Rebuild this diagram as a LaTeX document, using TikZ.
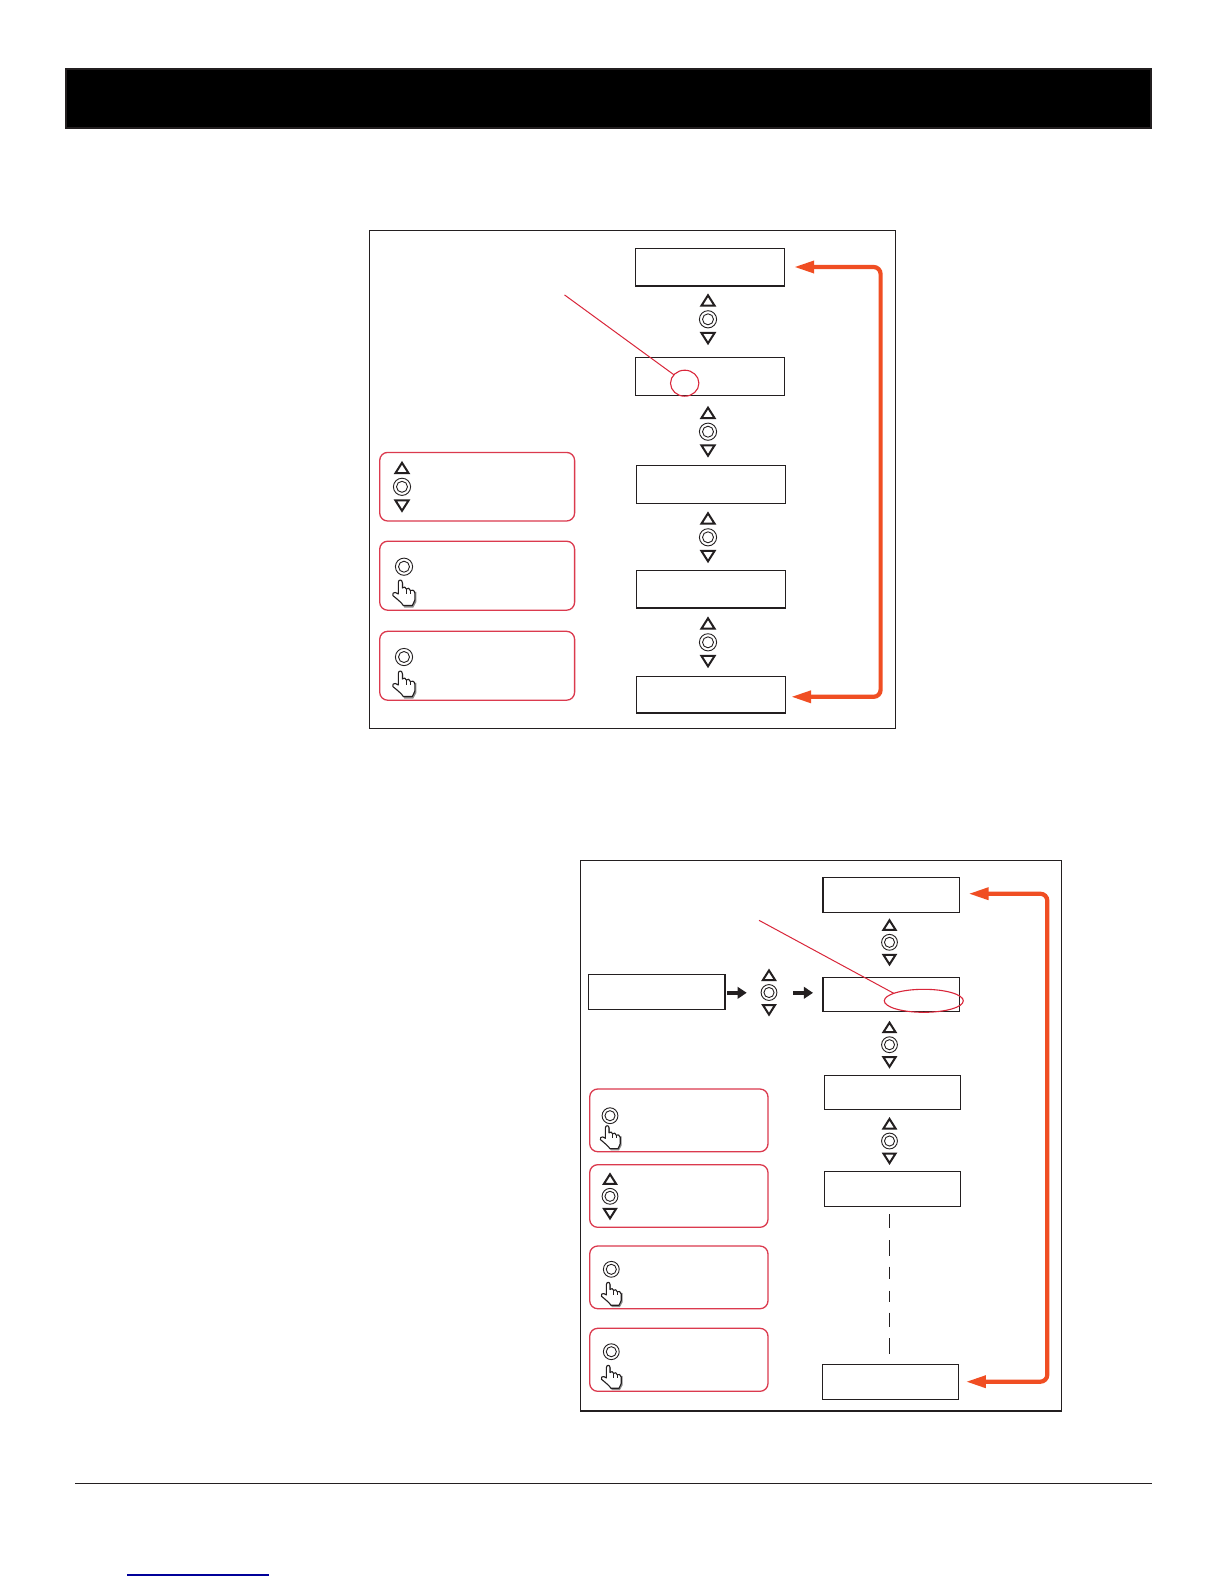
\documentclass[tikz,border=0pt]{standalone}
\usetikzlibrary{arrows.meta,shapes.geometric}
\definecolor{inkk}{HTML}{231F20}
\definecolor{redline}{HTML}{D9263A}
\definecolor{legendred}{HTML}{DB3A4E}
\definecolor{flow}{HTML}{F04E23}
\definecolor{linkblue}{HTML}{000099}
\tikzset{
  x=0.5bp,y=-0.5bp,
  framebox/.style={draw=inkk,line width=0.55bp,fill=white,rectangle,inner sep=0pt,outer sep=0pt},
  lcd/.style={draw=inkk,line width=0.6bp,fill=white,rectangle,inner sep=0pt,outer sep=0pt},
  legend/.style={draw=legendred,line width=0.65bp,fill=white,rectangle,rounded corners=4bp,inner sep=0pt,outer sep=0pt},
  callout/.style={draw=redline,line width=0.5bp},
  flowline/.style={draw=flow,line width=2.1bp,rounded corners=3.5bp,{Triangle[length=10bp,width=5.8bp]}-{Triangle[length=10bp,width=5.8bp]}},
  blackarrow/.style={draw=inkk,line width=2bp,-{Triangle[length=4.6bp,width=5.8bp]}},
  dashline/.style={draw=inkk,line width=0.5bp},
  updown/.pic={
    \draw[inkk,line width=1bp,line join=miter] (0,-24) -- (6.6,-13.6) -- (-6.6,-13.6) -- cycle;
    \draw[inkk,line width=1bp,line join=miter] (0,24) -- (6.6,13.6) -- (-6.6,13.6) -- cycle;
    \draw[inkk,line width=0.45bp] (0,0) circle[radius=8.6];
    \draw[inkk,line width=0.45bp] (0,0) circle[radius=5.5];
  },
  ringkey/.pic={
    \draw[inkk,line width=0.45bp] (0,0) circle[radius=8.6];
    \draw[inkk,line width=0.45bp] (0,0) circle[radius=5.5];
  },
  hand/.pic={
    \path[fill=black!45] (7,17) -- (7,3.5) .. controls (7,0.5) and (11,0.5) .. (11,3.5) -- (11,9) -- (24,12) -- (24,22) -- (21,27.5) -- (12,27.5) -- cycle;
    \draw[inkk,line width=0.55bp,fill=white,line join=round]
      (6,14) -- (6,2.5) .. controls (6,-0.8) and (10,-0.8) .. (10,2.5) -- (10,8)
      .. controls (11,6.5) and (14,6.5) .. (14,9)
      .. controls (15,7.5) and (18,8) .. (18,10.5)
      .. controls (19,9.5) and (22.5,10) .. (22.5,13)
      -- (22.5,20) .. controls (22.5,22) and (20.5,23) .. (20,25.5)
      -- (11,25.5) .. controls (9.5,23) and (6,20) .. (0.5,15.5)
      .. controls (-0.5,13.5) and (1.5,12) .. (3,12.5) -- cycle;
    \draw[inkk,line width=0.4bp] (14,9) -- (14,14) (18,10.5) -- (18,14);
  }
}
\newcommand{\pxrect}[6]{\node[#1,minimum width={(#5-#3)*0.5bp},minimum height={(#6-#4)*0.5bp}] (#2) at ({(#3+#5)/2},{(#4+#6)/2}) {};}
\begin{document}
\begin{tikzpicture}
\useasboundingbox[fill=white] (0,0) rectangle (1224,1584);
% header bar and footer rules
\pxrect{draw=inkk,fill=black,line width=1bp,rectangle,inner sep=0pt,outer sep=0pt}{bar}{65.8}{68.8}{1151}{128}
\coordinate (fl) at (75,1483.3); \coordinate (fr) at (1152,1483.3);
\draw[inkk,line width=0.6bp] (fl) -- (fr);
\coordinate (ll) at (127,1575); \coordinate (lr) at (269,1575);
\draw[linkblue,line width=0.6bp] (ll) -- (lr);
% upper frame
\pxrect{framebox}{fa}{369.6}{230.3}{895.8}{728.1}
\pxrect{lcd}{a1}{635.2}{248.4}{784.7}{286}
\pxrect{lcd}{a2}{635.2}{357.4}{784.7}{395.2}
\pxrect{lcd}{a3}{636.2}{465.4}{785.7}{503.2}
\pxrect{lcd}{a4}{636.2}{570.6}{785.7}{608}
\pxrect{lcd}{a5}{636.2}{676.6}{785.7}{713}
\foreach \yy in {319.3,431.7,537.3,642.3} \pic at (708,\yy) {updown};
\pxrect{legend}{la1}{379.7}{452.4}{574.6}{521}
\pxrect{legend}{la2}{379.7}{541.2}{574.6}{610.2}
\pxrect{legend}{la3}{379.7}{631.3}{574.6}{700.2}
\pic at (402,486.8) {updown};
\pic at (404,566.7) {ringkey};
\pic at (392.3,580) {hand};
\pic at (404,657) {ringkey};
\pic at (392.3,671) {hand};
\node[draw=redline,line width=0.55bp,ellipse,minimum width=14.2bp,minimum height=13bp,inner sep=0pt,outer sep=0pt] (ca) at (684.7,383.2) {};
\coordinate (pa) at (564.5,294.9);
\draw[callout] (pa) -- (ca.142);
\coordinate (ta1) at (794,267); \coordinate (ta5) at (791,696.8);
\draw[flowline] (ta1) -- (880.6,267) -- (880.6,696.8) -- (ta5);
% lower frame
\pxrect{framebox}{fb}{580.7}{860.4}{1061.6}{1411}
\pxrect{lcd}{b1}{823}{877.4}{959.4}{912.2}
\pxrect{lcd}{b2}{823}{977.4}{959.4}{1011.3}
\pxrect{lcd}{bl}{588.8}{974.4}{725}{1009.3}
\pxrect{lcd}{b3}{824.2}{1075.4}{960.5}{1109.3}
\pxrect{lcd}{b4}{824.2}{1171.4}{960.5}{1206.6}
\pxrect{lcd}{b5}{822.2}{1364.4}{958.5}{1399.3}
\foreach \yy in {942.3,1044.7,1141} \pic[scale=0.92] at (889.5,\yy) {updown};
\pic[scale=0.92] at (769,992.5) {updown};
\coordinate (s1) at (727,992.8); \coordinate (e1) at (746.7,992.8);
\coordinate (s2) at (793,992.8); \coordinate (e2) at (813,992.8);
\draw[blackarrow] (s1) -- (e1);
\draw[blackarrow] (s2) -- (e2);
\pxrect{legend}{lb1}{589.7}{1089}{768}{1151.7}
\pxrect{legend}{lb2}{589.7}{1164.7}{768}{1227.3}
\pxrect{legend}{lb3}{589.7}{1246}{768}{1308.7}
\pxrect{legend}{lb4}{589.7}{1328.3}{768}{1391.3}
\pic[scale=0.92] at (610,1115.7) {ringkey};
\pic[scale=0.9] at (600,1125.7) {hand};
\pic[scale=0.92] at (610,1196.3) {updown};
\pic[scale=0.92] at (611.3,1269.3) {ringkey};
\pic[scale=0.9] at (601,1282.3) {hand};
\pic[scale=0.92] at (611.3,1351.7) {ringkey};
\pic[scale=0.9] at (601,1365.3) {hand};
\node[draw=redline,line width=0.55bp,ellipse,minimum width=39.5bp,minimum height=11.5bp,inner sep=0pt,outer sep=0pt] (cb) at (923.8,1000.8) {};
\coordinate (pb) at (759,920.3);
\draw[callout] (pb) -- (cb.166);
\coordinate (tb1) at (968.5,893.7); \coordinate (tb5) at (965.8,1381.7);
\draw[flowline] (tb1) -- (1047.3,893.7) -- (1047.3,1381.7) -- (tb5);
\foreach \ya/\yb [count=\i] in {1214/1227.7,1240/1255.7,1266.7/1279,1290.7/1301.7,1312.7/1326.7,1338.3/1353.7}{
  \coordinate (da\i) at (889.3,\ya); \coordinate (db\i) at (889.3,\yb);
  \draw[dashline] (da\i) -- (db\i);
}
\end{tikzpicture}
\end{document}
